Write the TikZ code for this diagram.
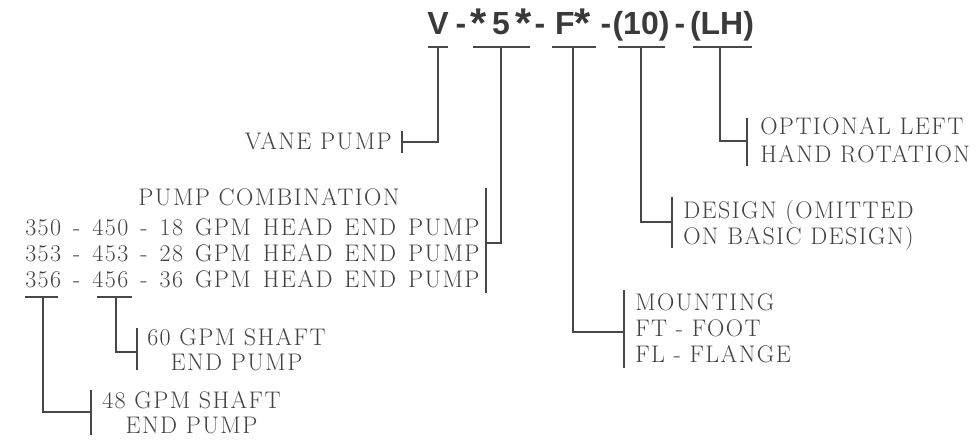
\documentclass[tikz,border=0pt]{standalone}
\usepackage{fontspec}
\usepackage{graphicx}
\usetikzlibrary{calc}
\setmainfont{Latin Modern Roman}[LetterSpace=6]
\newfontfamily\titlefont{Liberation Sans}
\definecolor{txtc}{HTML}{424242}
\definecolor{ttlc}{HTML}{3A3A3A}
\definecolor{linec}{HTML}{484848}
\newcommand{\bigast}{\raisebox{-0.09em}{\scalebox{1.3}{*}}}
\begin{document}
\begin{tikzpicture}[x=0.75pt,y=-0.75pt,
  lbl/.style={inner sep=0pt, text=txtc, font=\fontsize{18}{22}\selectfont},
  ttl/.style={inner sep=0pt, anchor=base, text=ttlc, font=\titlefont\bfseries\fontsize{24}{27}\selectfont},
  ln/.style={draw=linec, line width=1.1pt},
  ul/.style={draw=linec, line width=0.9pt}]
\useasboundingbox (0,0) rectangle (977,442);

% title
\node[ttl] (tV)  at (438,35) {V};
\node[ttl] (d1)  at (461,35) {-};
\node[ttl] (t5)  at (501,35) {\bigast\,5\,\bigast};
\node[ttl] (d2)  at (540,35) {-};
\node[ttl] (tF)  at (573,35) {F\bigast};
\node[ttl] (d3)  at (606,35) {-};
\node[ttl] (t10) at (641,35) {(10)};
\node[ttl] (d4)  at (680,35) {-};
\node[ttl] (tLH) at (722,35) {(LH)};

% underline coordinates
\coordinate (uVa) at (428,47);  \coordinate (uVb) at (448,47);  \coordinate (uV) at (438,47);
\coordinate (u5a) at (473,47);  \coordinate (u5b) at (530,47);  \coordinate (u5) at (501,47);
\coordinate (uFa) at (552,47);  \coordinate (uFb) at (596,47);  \coordinate (uF) at (573,47);
\coordinate (u10a) at (618,47); \coordinate (u10b) at (665,47); \coordinate (u10) at (641,47);
\coordinate (uLHa) at (693,47); \coordinate (uLHb) at (752,47); \coordinate (uLH) at (720,47);

\foreach \a/\b in {uVa/uVb,u5a/u5b,uFa/uFb,u10a/u10b,uLHa/uLHb}
  \draw[ul] (\a) -- (\b);

% VANE PUMP
\node[lbl, anchor=base east] (vane) at (392,150) {VANE PUMP};
\coordinate (kVt) at (402,131); \coordinate (kVb) at (402,153); \coordinate (kV) at (402,142);
\draw[ln] (kVt) -- (kVb);
\draw[ln] (uV) |- (kV);

% PUMP COMBINATION
\node[lbl, anchor=base] (comb) at (269,205) {PUMP COMBINATION};
\node[lbl, anchor=base west] (c1) at (25,235) {\spaceskip=0.5em\relax 350 - 450 - 18 GPM HEAD END PUMP};
\node[lbl, anchor=base west] (c2) at (25,261) {\spaceskip=0.5em\relax 353 - 453 - 28 GPM HEAD END PUMP};
\node[lbl, anchor=base west] (c3) at (25,287) {\spaceskip=0.5em\relax 356 - 456 - 36 GPM HEAD END PUMP};
\coordinate (k5t) at (486,188); \coordinate (k5b) at (486,293); \coordinate (k5) at (486,243);
\draw[ln] (k5t) -- (k5b);
\draw[ln] (u5) |- (k5);

% 356 / 456 underlines
\coordinate (a1) at (25,297); \coordinate (a2) at (58,297); \coordinate (a) at (43,297);
\coordinate (b1) at (97,297); \coordinate (b2) at (132,297); \coordinate (b) at (116,297);
\draw[ul] (a1) -- (a2);
\draw[ul] (b1) -- (b2);

% 60 GPM
\node[lbl, anchor=base west] (s60a) at (147,345) {60 GPM SHAFT};
\node[lbl, anchor=base] (s60b) at ($(s60a.base)+(0,25)$) {END PUMP};
\coordinate (kbt) at (137,328); \coordinate (kbb) at (137,370); \coordinate (kb) at (137,352);
\draw[ln] (kbt) -- (kbb);
\draw[ln] (b) |- (kb);

% 48 GPM
\node[lbl, anchor=base west] (s48a) at (102,408) {48 GPM SHAFT};
\node[lbl, anchor=base] (s48b) at ($(s48a.base)+(0,25)$) {END PUMP};
\coordinate (kat) at (91,390); \coordinate (kab) at (91,435); \coordinate (ka) at (91,412);
\draw[ln] (kat) -- (kab);
\draw[ln] (a) |- (ka);

% MOUNTING
\node[lbl, anchor=base west] (m1) at (635,310) {MOUNTING};
\node[lbl, anchor=base west] (m2) at (635,336) {FT - FOOT};
\node[lbl, anchor=base west] (m3) at (635,362) {FL - FLANGE};
\coordinate (kFt) at (624,290); \coordinate (kFb) at (624,368); \coordinate (kF) at (624,332);
\draw[ln] (kFt) -- (kFb);
\draw[ln] (uF) |- (kF);

% DESIGN
\node[lbl, anchor=base west] (g1) at (683,218) {DESIGN (OMITTED};
\node[lbl, anchor=base west] (g2) at (683,244) {ON BASIC DESIGN)};
\coordinate (k10t) at (672,197); \coordinate (k10b) at (672,248); \coordinate (k10) at (672,222);
\draw[ln] (k10t) -- (k10b);
\draw[ln] (u10) |- (k10);

% LH
\node[lbl, anchor=base west] (h1) at (760,135) {OPTIONAL LEFT};
\node[lbl, anchor=base west] (h2) at (760,162) {HAND ROTATION};
\coordinate (kLHt) at (747,118); \coordinate (kLHb) at (747,166); \coordinate (kLH) at (747,141);
\draw[ln] (kLHt) -- (kLHb);
\draw[ln] (uLH) |- (kLH);
\end{tikzpicture}
\end{document}
